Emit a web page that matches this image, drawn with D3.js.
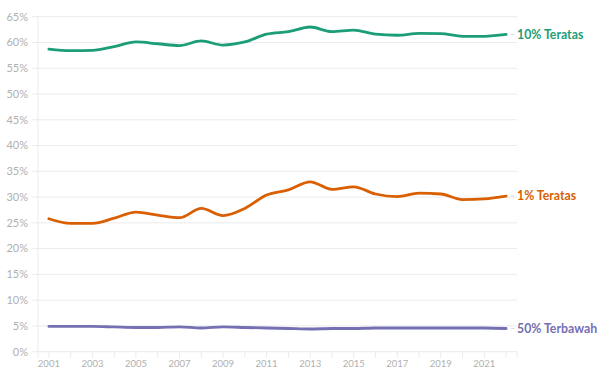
<!DOCTYPE html>
<html>
<head>
<meta charset="utf-8">
<script src="https://cdn.jsdelivr.net/npm/d3@7"></script>
<style>
  html, body { margin: 0; padding: 0; background: #fff; }
  svg { display: block; }
  text { font-family: Lato, "Open Sans", sans-serif; }
</style>
</head>
<body>
<svg id="chart" width="611" height="380"></svg>
<script>
const years = [2001,2002,2003,2004,2005,2006,2007,2008,2009,2010,2011,2012,2013,2014,2015,2016,2017,2018,2019,2020,2021,2022];
const top10 = [58.7,58.4,58.45,59.2,60.1,59.75,59.4,60.3,59.5,60.1,61.6,62.1,63.0,62.1,62.4,61.6,61.4,61.75,61.7,61.2,61.2,61.55];
const top1  = [25.8,24.9,24.9,25.9,27.1,26.5,26.0,27.8,26.4,27.8,30.4,31.4,32.95,31.5,32.0,30.6,30.1,30.75,30.6,29.5,29.65,30.2];
const bottom50 = [4.9,4.9,4.9,4.8,4.7,4.7,4.8,4.6,4.8,4.7,4.6,4.5,4.4,4.5,4.5,4.6,4.6,4.6,4.6,4.6,4.6,4.5];
const seriesNames = ["10% Teratas","1% Teratas","50% Terbawah"];
const seriesColors = ["#1b9e77","#d95f02","#7570b3"];
const yTicks = [0,5,10,15,20,25,30,35,40,45,50,55,60,65];
const xLabelYears = [2001,2003,2005,2007,2009,2011,2013,2015,2017,2019,2021];

const svg = d3.select("#chart");
const mLeft = 38, mRight = 517, mTop = 16.7, mBottom = 351.7;

const x = d3.scalePoint().domain(years).range([mLeft, mRight]).padding(0.5);
const y = d3.scaleLinear().domain([0, 65]).range([mBottom, mTop]);

// gridlines
svg.append("g").selectAll("line").data(yTicks).join("line")
  .attr("x1", mLeft - 6).attr("x2", mRight)
  .attr("y1", d => y(d)).attr("y2", d => y(d))
  .attr("stroke", "#ebebeb").attr("stroke-width", 1);

// y axis line
svg.append("line").attr("x1", mLeft).attr("x2", mLeft)
  .attr("y1", mTop).attr("y2", mBottom + 6)
  .attr("stroke", "#ebebeb");

// y labels
svg.append("g").selectAll("text").data(yTicks).join("text")
  .attr("x", 28).attr("y", d => y(d)).attr("dy", "0.35em")
  .attr("text-anchor", "end").attr("font-size", 11).attr("fill", "#b0b0b0")
  .text(d => d + "%");

// x ticks
svg.append("g").selectAll("line").data(years.concat(["end"])).join("line")
  .attr("x1", d => d === "end" ? mRight : x(d)).attr("x2", d => d === "end" ? mRight : x(d))
  .attr("y1", mBottom).attr("y2", mBottom + 6)
  .attr("stroke", "#ebebeb");

// x labels
svg.append("g").selectAll("text").data(xLabelYears).join("text")
  .attr("x", d => x(d)).attr("y", 364).attr("dy", "0.35em")
  .attr("text-anchor", "middle").attr("font-size", 9.5).attr("fill", "#b0b0b0")
  .text(d => d);

const allSeries = [top10, top1, bottom50];
const line = d3.line().x((d, i) => x(years[i])).y(d => y(d)).curve(d3.curveMonotoneX);

allSeries.forEach((vals, k) => {
  svg.append("path").datum(vals)
    .attr("d", line).attr("fill", "none")
    .attr("stroke", seriesColors[k]).attr("stroke-width", 2.8)
    .attr("stroke-linejoin", "round").attr("stroke-linecap", "round");
  const last = vals[vals.length - 1];
  const ly = y(last);
  svg.append("line").attr("x1", x(years[years.length-1]) + 5).attr("x2", x(years[years.length-1]) + 8)
    .attr("y1", ly).attr("y2", ly).attr("stroke", "#d8d8d8").attr("stroke-width", 1);
  svg.append("text").attr("x", 517).attr("y", ly).attr("dy", "0.35em")
    .attr("font-size", 12.3).attr("font-weight", "bold").attr("fill", seriesColors[k])
    .text(seriesNames[k]);
});
</script>
</body>
</html>
